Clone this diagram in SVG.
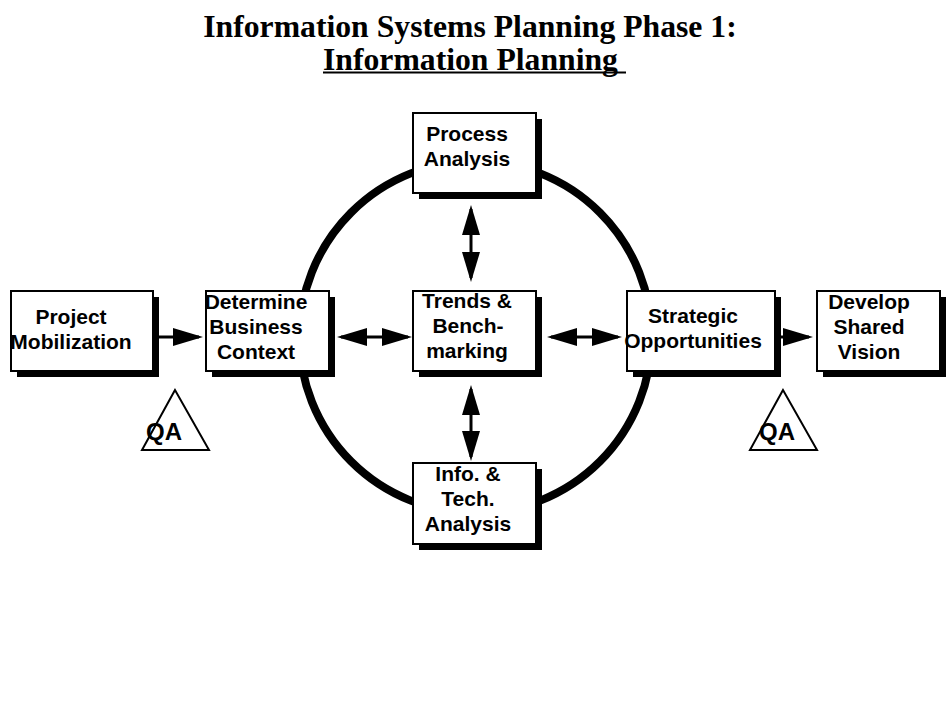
<svg xmlns="http://www.w3.org/2000/svg" width="950" height="713" viewBox="0 0 950 713">
<style>
.title{font-family:"Liberation Serif","Times New Roman",serif;font-weight:bold;font-size:31.7px;fill:#000}
.lbl{font-family:"Liberation Sans",Arial,sans-serif;font-weight:bold;font-size:21px;text-anchor:middle;fill:#000}
.qa{font-family:"Liberation Sans",Arial,sans-serif;font-weight:bold;font-size:24px;text-anchor:middle;fill:#000}
.shadow{fill:#000}
.box{fill:#fff;stroke:#000;stroke-width:2}
.conn{stroke:#000;stroke-width:3;fill:none}
.tri{fill:#fff;stroke:#000;stroke-width:2}
</style>
<defs>
<marker id="ah" markerUnits="userSpaceOnUse" markerWidth="30" markerHeight="18" viewBox="0 0 30 18" refX="26" refY="9" orient="auto-start-reverse">
<path d="M0,0 L30,9 L0,18 Z" fill="#000"/>
</marker>
</defs>
<rect width="950" height="713" fill="#fff"/>
<g id="title">
<text class="title" x="470" y="37" text-anchor="middle">Information Systems Planning Phase 1:</text>
<text class="title" x="323" y="70" xml:space="preserve">Information Planning </text>
<line x1="323" y1="72.5" x2="626" y2="72.5" stroke="#000" stroke-width="2"/>
</g>
<g id="ring">
<circle cx="475.5" cy="337" r="176" fill="none" stroke="#000" stroke-width="8"/>
</g>
<g id="connectors">
<line class="conn" x1="158" y1="337" x2="199" y2="337" marker-end="url(#ah)"/>
<line class="conn" x1="781" y1="337" x2="809" y2="337" marker-end="url(#ah)"/>
<line class="conn" x1="341" y1="337" x2="408" y2="337" marker-start="url(#ah)" marker-end="url(#ah)"/>
<line class="conn" x1="551" y1="337" x2="618" y2="337" marker-start="url(#ah)" marker-end="url(#ah)"/>
<line class="conn" x1="471" y1="209" x2="471" y2="278" marker-start="url(#ah)" marker-end="url(#ah)"/>
<line class="conn" x1="471" y1="389" x2="471" y2="457" marker-start="url(#ah)" marker-end="url(#ah)"/>
</g>
<g id="qa-left">
<polygon class="tri" points="175,390 142,450 209,450"/>
<text class="qa" x="164" y="440">QA</text>
</g>
<g id="qa-right">
<polygon class="tri" points="783,390 750,450 817,450"/>
<text class="qa" x="777" y="440">QA</text>
</g>
<g id="process-analysis">
<rect class="shadow" x="419" y="119" width="123" height="80"/>
<rect class="box" x="413" y="113" width="123" height="80"/>
<text class="lbl" x="467" y="141">Process</text>
<text class="lbl" x="467" y="166">Analysis</text>
</g>
<g id="project-mobilization">
<rect class="shadow" x="17" y="297" width="142" height="80"/>
<rect class="box" x="11" y="291" width="142" height="80"/>
<text class="lbl" x="71" y="324">Project</text>
<text class="lbl" x="71" y="349">Mobilization</text>
</g>
<g id="determine-business-context">
<rect class="shadow" x="212" y="297" width="123" height="80"/>
<rect class="box" x="206" y="291" width="123" height="80"/>
<text class="lbl" x="256" y="309">Determine</text>
<text class="lbl" x="256" y="334">Business</text>
<text class="lbl" x="256" y="359">Context</text>
</g>
<g id="trends-benchmarking">
<rect class="shadow" x="419" y="297" width="123" height="80"/>
<rect class="box" x="413" y="291" width="123" height="80"/>
<text class="lbl" x="467" y="308">Trends &amp;</text>
<text class="lbl" x="468" y="333">Bench-</text>
<text class="lbl" x="467" y="358">marking</text>
</g>
<g id="strategic-opportunities">
<rect class="shadow" x="633" y="297" width="148" height="80"/>
<rect class="box" x="627" y="291" width="148" height="80"/>
<text class="lbl" x="693" y="323">Strategic</text>
<text class="lbl" x="693" y="348">Opportunities</text>
</g>
<g id="develop-shared-vision">
<rect class="shadow" x="823" y="297" width="123" height="80"/>
<rect class="box" x="817" y="291" width="123" height="80"/>
<text class="lbl" x="869" y="309">Develop</text>
<text class="lbl" x="869" y="334">Shared</text>
<text class="lbl" x="869" y="359">Vision</text>
</g>
<g id="info-tech-analysis">
<rect class="shadow" x="419" y="469" width="123" height="81"/>
<rect class="box" x="413" y="463" width="123" height="81"/>
<text class="lbl" x="468" y="481">Info. &amp;</text>
<text class="lbl" x="468" y="506">Tech.</text>
<text class="lbl" x="468" y="531">Analysis</text>
</g>
</svg>
